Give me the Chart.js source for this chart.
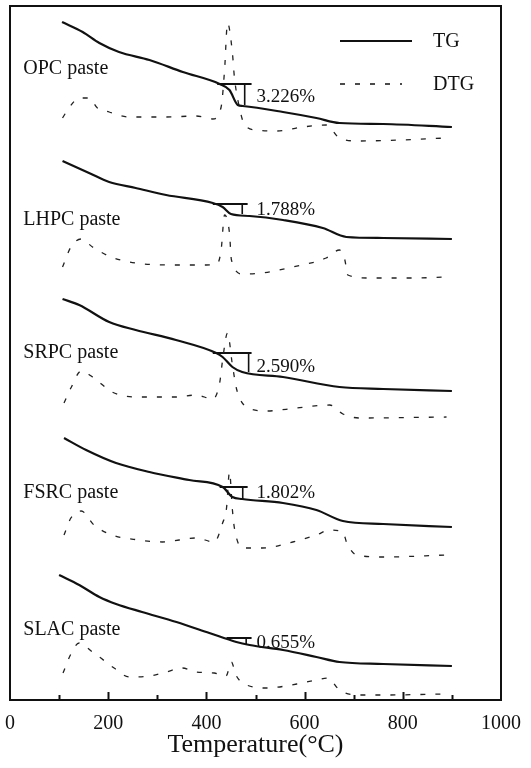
<!DOCTYPE html>
<html>
<head>
<meta charset="utf-8">
<script src="https://cdn.jsdelivr.net/npm/chart.js@4.4.1/dist/chart.umd.min.js"></script>
<style>
  html, body { margin: 0; padding: 0; background: #fff; }
  #wrap { width: 531px; height: 768px; position: relative; }
</style>
</head>
<body>
<div id="wrap"><canvas id="tgChart"></canvas></div>
<script>
// Curve data: [temperature (°C), vertical offset (arbitrary units, stacked)]
const opcTG = [[106,678],[148,668],[182,657],[222,648],[284,640],[352,628],[427,616],[447,610],[464,595],[474,594],[556,588],[624,582],[671,577],[760,576],[900,573]];
const opcDTG = [[107,582],[120,592],[141,602],[161,602],[178,592],[202,588],[243,583],[318,583],[379,584],[413,581],[430,593],[437,630],[443,677],[453,647],[457,623],[467,593],[478,575],[502,570],[543,569],[596,573],[644,575],[671,562],[712,559],[794,560],[889,562]];

const lhpcTG = [[107,539],[161,527],[202,518],[256,512],[318,505],[413,497],[433,493],[450,486],[488,484],[556,480],[637,472],[685,463],[760,462],[900,461]];
const lhpcDTG = [[107,433],[124,453],[145,461],[168,453],[206,443],[256,437],[338,435],[400,435],[423,437],[430,450],[437,485],[447,467],[451,440],[474,426],[514,427],[576,433],[644,442],[671,450],[682,440],[688,425],[733,422],[820,422],[889,423]];

const srpcTG = [[107,401],[141,395],[202,378],[256,370],[338,360],[420,347],[433,343],[453,333],[473,328],[556,323],[671,313],[760,311],[900,309]];
const srpcDTG = [[110,297],[124,312],[145,329],[171,322],[208,308],[256,303],[338,303],[379,305],[413,301],[427,317],[433,340],[443,367],[453,335],[462,310],[482,293],[522,289],[584,292],[651,295],[678,286],[712,282],[889,283]];

const fsrcTG = [[110,262],[155,250],[216,237],[284,228],[365,220],[433,213],[453,203],[473,201],[556,197],[624,190],[678,179],[760,176],[900,173]];
const fsrcDTG = [[110,165],[124,182],[145,189],[171,175],[208,165],[263,160],[310,158],[379,162],[416,158],[433,177],[441,192],[447,228],[453,190],[457,172],[474,152],[514,152],[576,158],[624,165],[651,170],[678,168],[686,157],[706,145],[760,143],[889,145]];

const slacTG = [[100,125],[141,115],[182,103],[216,96],[269,88],[339,78],[406,67],[461,58],[488,55],[556,50],[624,43],[671,38],[760,36],[900,34]];
const slacDTG = [[108,27],[124,46],[141,57],[168,48],[182,43],[212,32],[243,23],[284,24],[318,28],[351,32],[379,28],[416,27],[440,24],[451,38],[460,25],[482,15],[522,12],[584,16],[624,20],[647,22],[671,10],[706,5],[760,5],[889,6]];

const pastes = ["OPC paste", "LHPC paste", "SRPC paste", "FSRC paste", "SLAC paste"];
const tgSeries = [opcTG, lhpcTG, srpcTG, fsrcTG, slacTG];
const dtgSeries = [opcDTG, lhpcDTG, srpcDTG, fsrcDTG, slacDTG];

// mass loss step (portlandite decomposition)
const lossLabels = ["3.226%", "1.788%", "2.590%", "1.802%", "0.655%"];
const stepLeft = [422, 413, 413, 427, 441];
const stepRight = [492, 484, 492, 484, 492];
const stepVert = [478, 473, 486, 474, 481];
const stepTop = [616, 496, 347, 213, 62];
const stepBottom = [595, 486, 328, 201, 55];

const xTicks = [0, 200, 400, 600, 800, 1000];

const toXY = arr => arr.map(p => ({ x: p[0], y: p[1] }));

const datasets = [];
pastes.forEach((name, i) => {
    datasets.push({
        label: name + " TG",
        data: toXY(tgSeries[i]),
        borderColor: "#111",
        borderWidth: 2.2,
        cubicInterpolationMode: "monotone",
        pointRadius: 0
    });
    datasets.push({
        label: name + " DTG",
        data: toXY(dtgSeries[i]),
        borderColor: "#222",
        borderWidth: 1.3,
        borderDash: [5, 10],
        cubicInterpolationMode: "monotone",
        pointRadius: 0
    });
    datasets.push({
        label: name + " step",
        data: [{ x: stepLeft[i], y: stepTop[i] }, { x: stepRight[i], y: stepTop[i] }],
        borderColor: "#111",
        borderWidth: 2,
        pointRadius: 0
    });
    datasets.push({
        label: name + " drop",
        data: [{ x: stepVert[i], y: stepTop[i] }, { x: stepVert[i], y: stepBottom[i] }],
        borderColor: "#111",
        borderWidth: 1.6,
        pointRadius: 0
    });
});

// text placement (in data units)
const nameY = [631, 480, 347, 207, 70];
const lossY = [603, 490, 333, 207, 57];

const serif = "'Liberation Serif', 'Times New Roman', serif";

const framePlugin = {
    id: "frame",
    afterDatasetsDraw(chart) {
        const { ctx, chartArea: a, scales: { x, y } } = chart;
        ctx.save();
        ctx.strokeStyle = "#111";
        ctx.lineWidth = 2;
        ctx.strokeRect(a.left, a.top, a.right - a.left, a.bottom - a.top);

        // inward ticks
        for (let t = 100; t < 1000; t += 100) {
            const px = Math.round(x.getPixelForValue(t)) + 0.5;
            const len = t % 200 === 0 ? 8 : 5;
            ctx.beginPath();
            ctx.moveTo(px, a.bottom);
            ctx.lineTo(px, a.bottom - len);
            ctx.stroke();
        }

        ctx.fillStyle = "#111";
        ctx.textBaseline = "middle";
        ctx.textAlign = "left";
        ctx.font = "20px " + serif;
        pastes.forEach((name, i) => {
            ctx.fillText(name, x.getPixelForValue(27), y.getPixelForValue(nameY[i]));
        });
        ctx.font = "19px " + serif;
        lossLabels.forEach((txt, i) => {
            ctx.fillText(txt, x.getPixelForValue(502), y.getPixelForValue(lossY[i]));
        });

        // legend
        ctx.lineWidth = 2.2;
        ctx.beginPath();
        ctx.moveTo(340, 41);
        ctx.lineTo(412, 41);
        ctx.stroke();
        ctx.lineWidth = 1.3;
        ctx.setLineDash([5, 10]);
        ctx.beginPath();
        ctx.moveTo(340, 84);
        ctx.lineTo(402, 84);
        ctx.stroke();
        ctx.setLineDash([]);
        ctx.font = "20px " + serif;
        ctx.fillText("TG", 433, 42);
        ctx.fillText("DTG", 433, 85);
        ctx.restore();
    }
};

new Chart(document.getElementById("tgChart"), {
    type: "line",
    data: { datasets },
    options: {
        responsive: true,
        maintainAspectRatio: false,
        animation: false,
        layout: { padding: { left: 10, right: 30, top: 6, bottom: 0 } },
        plugins: { legend: { display: false }, tooltip: { enabled: false } },
        scales: {
            x: {
                type: "linear",
                min: 0,
                max: 1000,
                afterFit: scale => {
                    scale.height = 68;
                    scale.paddingLeft = 0;
                    scale.paddingRight = 0;
                },
                afterBuildTicks: scale => { scale.ticks = xTicks.map(v => ({ value: v })); },
                grid: { display: false, drawTicks: false },
                border: { display: false },
                ticks: {
                    padding: 12,
                    color: "#111",
                    maxRotation: 0,
                    callback: v => String(v),
                    font: { family: serif, size: 20 }
                },
                title: {
                    display: true,
                    text: "Temperature(°C)",
                    color: "#111",
                    padding: { top: 0, bottom: 10 },
                    font: { family: serif, size: 26, lineHeight: 1 }
                }
            },
            y: {
                display: false,
                min: 0,
                max: 694
            }
        }
    },
    plugins: [framePlugin]
});
</script>
</body>
</html>
